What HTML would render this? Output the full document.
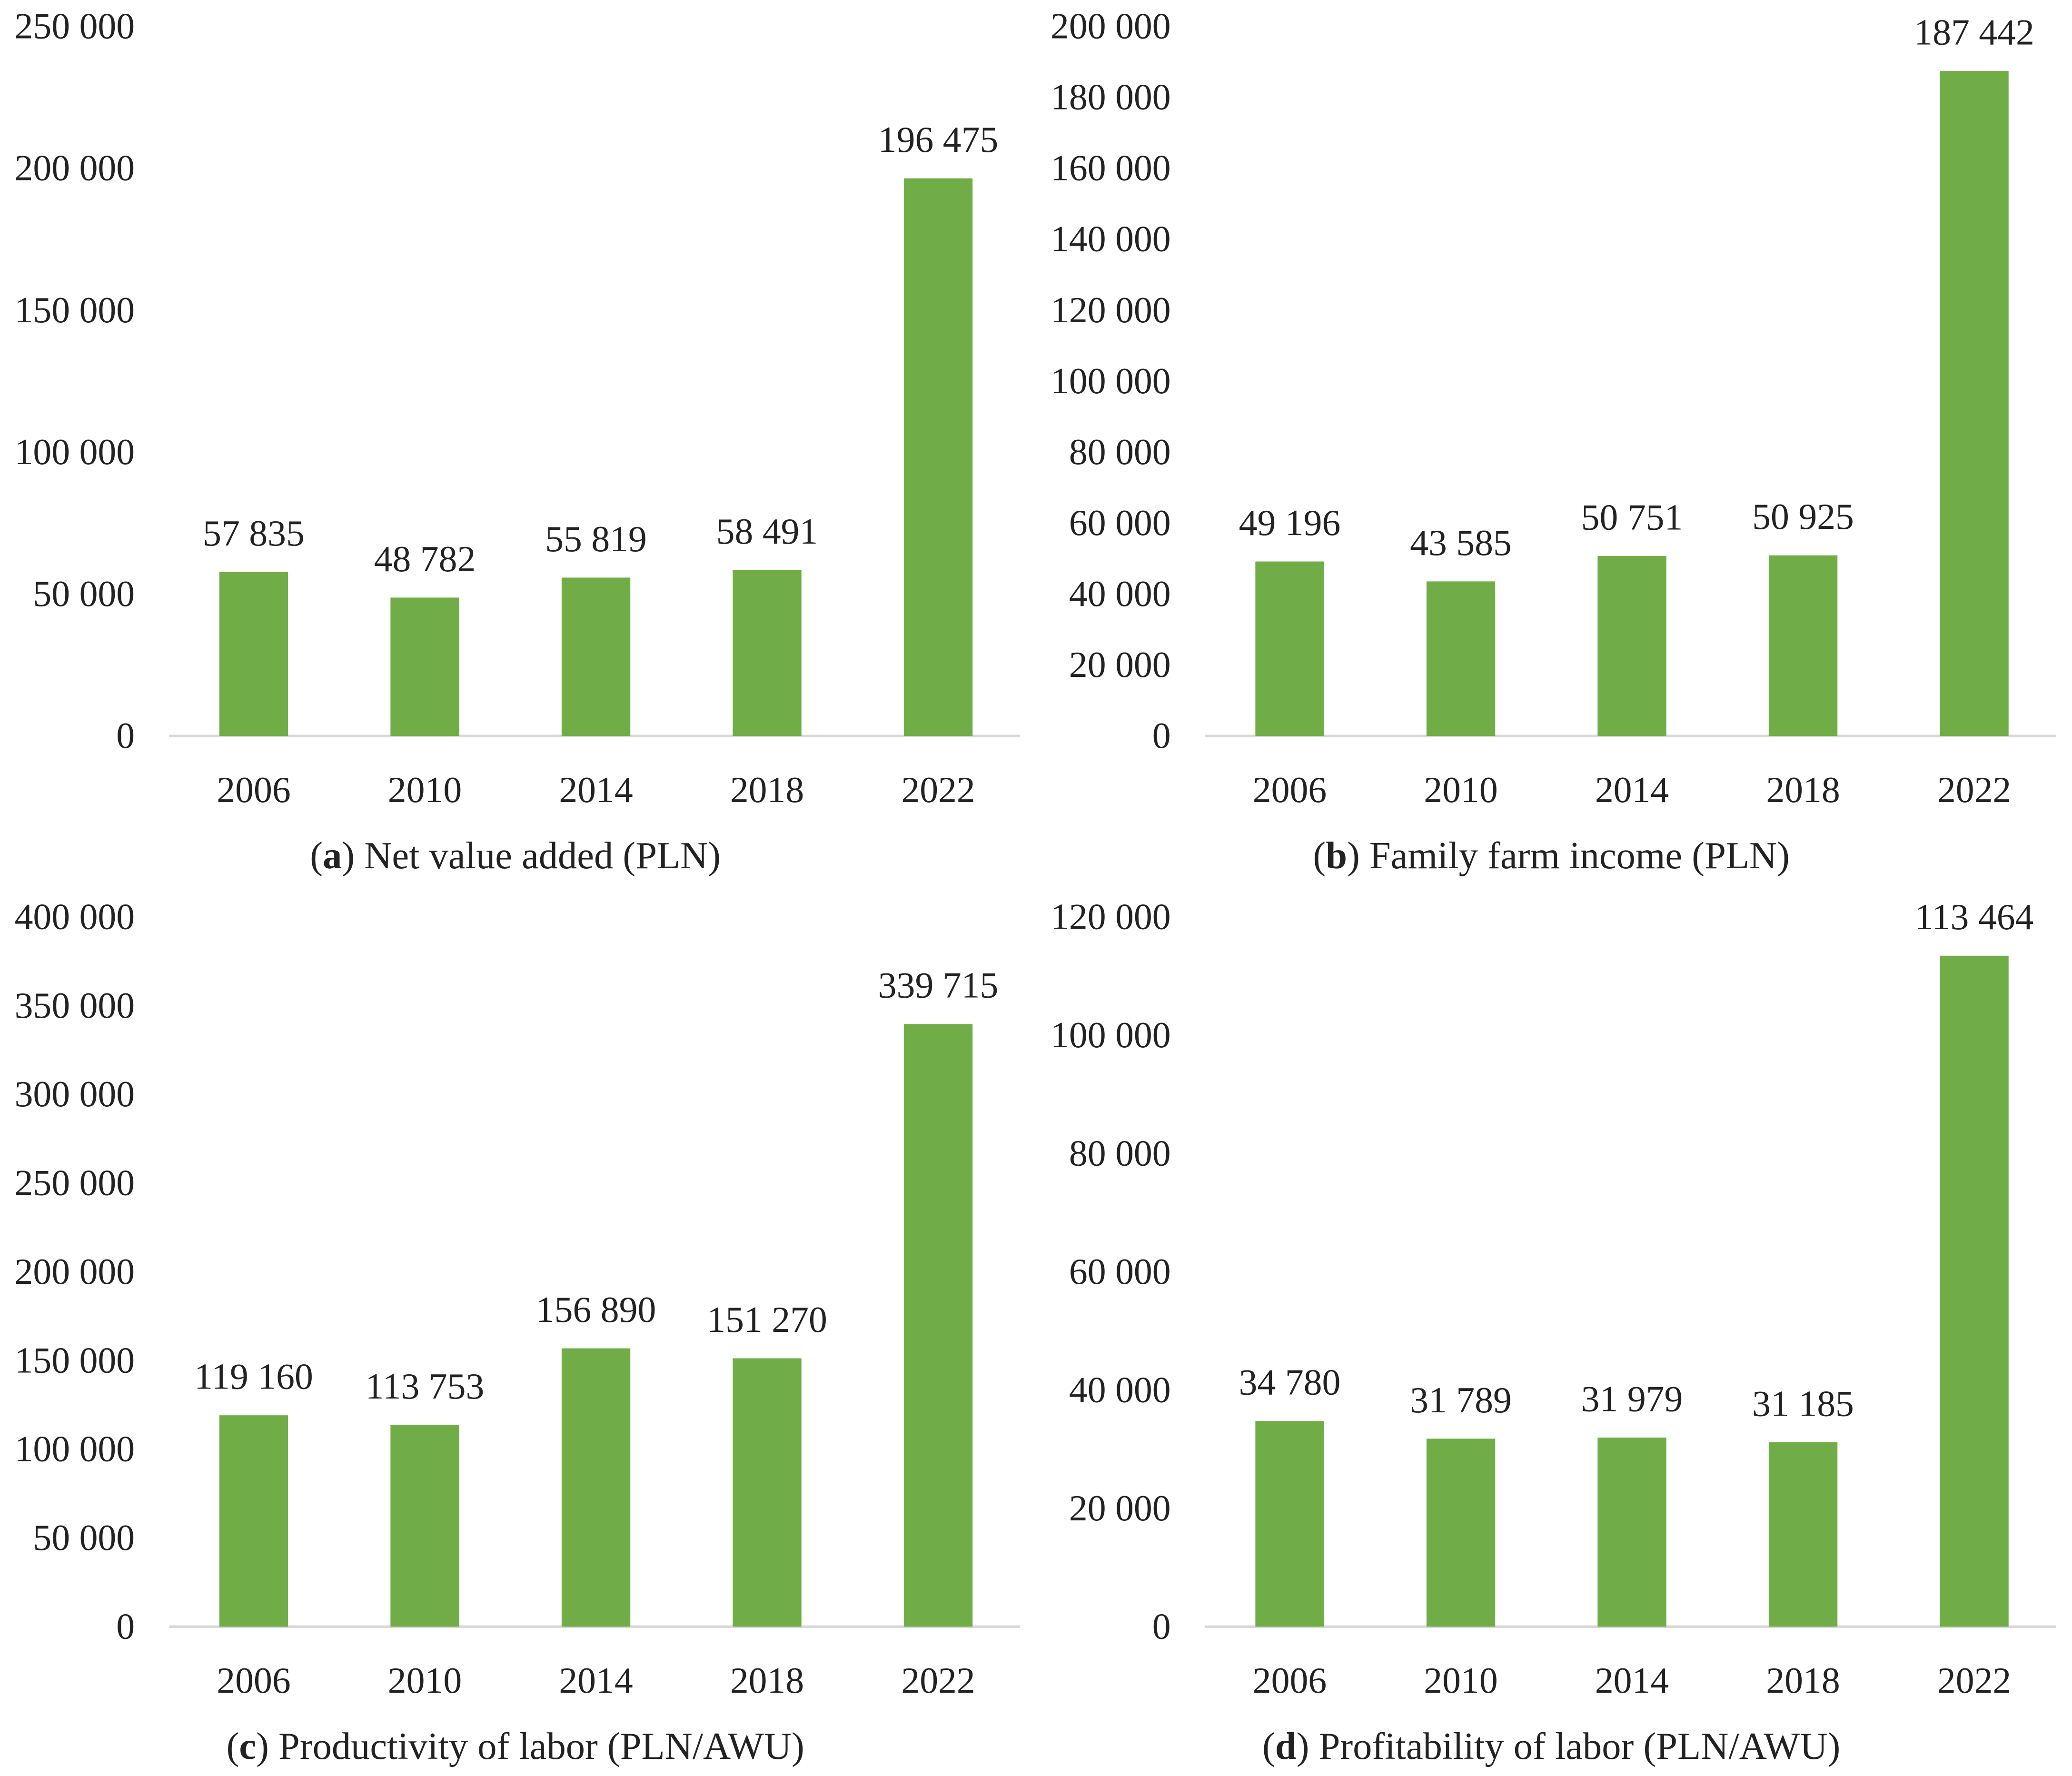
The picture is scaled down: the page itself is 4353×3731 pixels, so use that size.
<!DOCTYPE html>
<html><head><meta charset="utf-8"><style>
html,body{margin:0;padding:0;background:#fff}
svg{display:block}
text{font-family:"Liberation Serif",serif;fill:#222}
</style></head><body>
<svg id="chart" width="4353" height="3731" viewBox="0 0 1568 1344" preserveAspectRatio="none" xmlns="http://www.w3.org/2000/svg"></svg>
<script>
const categories = ["2006","2010","2014","2018","2022"];
const seriesA = [57835,48782,55819,58491,196475];
const seriesB = [49196,43585,50751,50925,187442];
const seriesC = [119160,113753,156890,151270,339715];
const seriesD = [34780,31789,31979,31185,113464];
const labelsA = ["57 835","48 782","55 819","58 491","196 475"];
const labelsB = ["49 196","43 585","50 751","50 925","187 442"];
const labelsC = ["119 160","113 753","156 890","151 270","339 715"];
const labelsD = ["34 780","31 789","31 979","31 185","113 464"];
const ticksA = [0,50000,100000,150000,200000,250000];
const ticksB = [0,20000,40000,60000,80000,100000,120000,140000,160000,180000,200000];
const ticksC = [0,50000,100000,150000,200000,250000,300000,350000,400000];
const ticksD = [0,20000,40000,60000,80000,100000,120000];

const NS="http://www.w3.org/2000/svg";
const svg=document.getElementById('chart');
function mk(tag,attrs,parent){const e=document.createElementNS(NS,tag);for(const k in attrs)e.setAttribute(k,attrs[k]);(parent||svg).appendChild(e);return e;}
function fmt(v){return v.toString().replace(/\B(?=(\d{3})+(?!\d))/g," ");}

function panel(id,ox,oy,values,labels,ticks,letter,title){
  const g=mk('g',{});
  
  
  const y0=oy+557, yTop=oy+20, maxV=ticks[ticks.length-1];
  const y=v=>y0-(v/maxV)*(y0-yTop);
  const x=i=>ox+192+i*129.5;
  ticks.forEach(t=>{
    const tx=mk('text',{x:ox+102,y:y(t)+9,'text-anchor':'end','font-size':28},g);
    tx.textContent=fmt(t);
    
    
  });
  const ax=mk('line',{x1:ox+128,x2:ox+772,y1:y0,y2:y0,stroke:'#d9d9d9','stroke-width':2},g);
  
  
  values.forEach((v,i)=>{
    const b=mk('rect',{x:x(i)-26,y:y(v),width:52,height:y0-y(v),fill:'#70AD47'},g);
    
    
    const vl=mk('text',{x:x(i),y:y(v)-20,'text-anchor':'middle','font-size':28},g);
    vl.textContent=labels[i];
    
    
    const cl=mk('text',{x:x(i),y:y0+50,'text-anchor':'middle','font-size':28},g);
    cl.textContent=categories[i];
    
    
  });
  const cap=mk('text',{x:ox+390,y:oy+657,'text-anchor':'middle','font-size':29},g);
  
  
  const t1=mk('tspan',{},cap);t1.textContent='(';
  const t2=mk('tspan',{'font-weight':'bold'},cap);t2.textContent=letter;
  const t3=mk('tspan',{},cap);t3.textContent=') '+title;
}
panel('a',0,0,seriesA,labelsA,ticksA,'a','Net value added (PLN)');
panel('b',784,0,seriesB,labelsB,ticksB,'b','Family farm income (PLN)');
panel('c',0,674,seriesC,labelsC,ticksC,'c','Productivity of labor (PLN/AWU)');
panel('d',784,674,seriesD,labelsD,ticksD,'d','Profitability of labor (PLN/AWU)');
</script>
</body></html>
